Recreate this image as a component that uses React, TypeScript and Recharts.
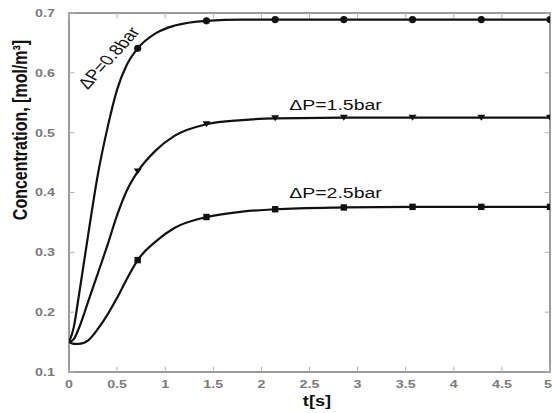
import React from 'react';
import { ComposedChart, Line, Scatter, XAxis, YAxis, ReferenceDot, ReferenceArea, ReferenceLine } from 'recharts';

// Curve sample times [s] and concentrations
const curveT = [0, 0.05, 0.1, 0.2, 0.3, 0.4, 0.5, 0.6, 0.714, 0.9, 1.1, 1.429, 1.8, 2.143, 2.857, 3.571, 4.286, 5];
const curve08 = [0.15, 0.175, 0.225, 0.33, 0.43, 0.508, 0.572, 0.613, 0.641, 0.666, 0.679, 0.687, 0.689, 0.689, 0.689, 0.689, 0.689, 0.689];
const curve15 = [0.15, 0.155, 0.172, 0.218, 0.265, 0.312, 0.362, 0.403, 0.435, 0.47, 0.495, 0.514, 0.521, 0.524, 0.525, 0.525, 0.525, 0.525];
const curve25 = [0.15, 0.147, 0.147, 0.153, 0.172, 0.196, 0.224, 0.255, 0.287, 0.318, 0.341, 0.359, 0.368, 0.372, 0.375, 0.376, 0.376, 0.376];

// Marker positions
const markerT = [0.714, 1.429, 2.143, 2.857, 3.571, 4.286, 5];
const marker08 = [0.641, 0.687, 0.689, 0.689, 0.689, 0.689, 0.689];
const marker15 = [0.435, 0.514, 0.524, 0.525, 0.525, 0.525, 0.525];
const marker25 = [0.287, 0.359, 0.372, 0.375, 0.376, 0.376, 0.376];

// Labels
const seriesLabels = ['ΔP=0.8bar', 'ΔP=1.5bar', 'ΔP=2.5bar'];
const labelT = [0.47, 2.77, 2.77];
const labelV = [0.62, 0.538, 0.391];
const xTicks = [0, 0.5, 1, 1.5, 2, 2.5, 3, 3.5, 4, 4.5, 5];
const yTicks = [0.1, 0.2, 0.3, 0.4, 0.5, 0.6, 0.7];
const xTitle = 't[s]';
const yTitle = 'Concentration, [mol/m³]';

const toPoints = (ts: number[], vs: number[]) => ts.map((t, i) => ({ t, v: vs[i] }));

const FONT = '"Liberation Sans", Arial, sans-serif';
const FRAME = '#9a9a9a';
const TICK = '#b0b0b0';
const INK = '#111';
const X0 = 0, X1 = 5, Y0 = 0.1, Y1 = 0.7;
const TX = 0.055; // inward tick length along x (data units)
const TY = 0.009; // inward tick length along y (data units)

const YTick = (props: any) => {
  const { x, y, payload } = props;
  return (
    <g transform={`translate(${x},${y}) scale(1.3,1)`}>
      <text x={0} y={0} dy="0.35em" textAnchor="end" fontSize={11} fontWeight="bold" fill="#7a7a7a" fontFamily={FONT}>
        {payload.value}
      </text>
    </g>
  );
};

const XTick = (props: any) => {
  const { x, y, payload } = props;
  const last = payload.value === X1;
  return (
    <g transform={`translate(${last ? x + 2 : x},${y}) scale(1.3,1)`}>
      <text x={0} y={0} dy="0.35em" textAnchor={last ? 'end' : 'middle'} fontSize={11} fontWeight="bold" fill="#7a7a7a" fontFamily={FONT}>
        {payload.value}
      </text>
    </g>
  );
};

const circleShape = (p: any) => <circle cx={p.cx} cy={p.cy} r={3.6} fill={INK} />;
const triShape = (p: any) => (
  <polygon points={`${p.cx - 4},${p.cy - 3} ${p.cx + 4},${p.cy - 3} ${p.cx},${p.cy + 3}`} fill={INK} />
);
const squareShape = (p: any) => <rect x={p.cx - 3.2} y={p.cy - 3.2} width={6.4} height={6.4} fill={INK} />;

const makeLabelShape = (text: string, angle: number) => (p: any) => (
  <g transform={`translate(${p.cx},${p.cy}) scale(1.3,1) rotate(${angle})`}>
    <text x={0} y={0} textAnchor="middle" fontSize={15} fill={INK} fontFamily={FONT}>
      {text}
    </text>
  </g>
);

const YTitle = () => (
  <g transform="translate(27,130) scale(1.3,1) rotate(-90)">
    <text x={0} y={0} textAnchor="middle" fontSize={16} fontWeight="bold" fill={INK} fontFamily={FONT}>
      {yTitle}
    </text>
  </g>
);

const XTitle = () => (
  <g transform="translate(317,406) scale(1.3,1)">
    <text x={0} y={0} textAnchor="middle" fontSize={14} fontWeight="bold" fill={INK} fontFamily={FONT}>
      {xTitle}
    </text>
  </g>
);

export default function App() {
  const d08 = toPoints(curveT, curve08);
  const d15 = toPoints(curveT, curve15);
  const d25 = toPoints(curveT, curve25);
  const m08 = toPoints(markerT, marker08);
  const m15 = toPoints(markerT, marker15);
  const m25 = toPoints(markerT, marker25);
  const angles = [-55, 0, 0];
  return (
    <div style={{ position: 'absolute', left: 0, top: 0, width: 552, height: 413, background: '#fff' }}>
      <ComposedChart width={552} height={413} margin={{ top: 13, right: 2, bottom: 0, left: 0 }}>
        <XAxis
          dataKey="t"
          type="number"
          domain={[X0, X1]}
          ticks={xTicks}
          interval={0}
          height={41}
          axisLine={false}
          tickLine={false}
          tickSize={0}
          tickMargin={12}
          tick={<XTick />}
          allowDataOverflow
          label={{ content: () => <XTitle /> }}
        />
        <YAxis
          type="number"
          domain={[Y0, Y1]}
          ticks={yTicks}
          interval={0}
          width={69}
          axisLine={false}
          tickLine={false}
          tickSize={0}
          tickMargin={14}
          tick={<YTick />}
          allowDataOverflow
          label={{ content: () => <YTitle /> }}
        />
        {xTicks.map((t) => (
          <ReferenceLine key={'xb' + t} segment={[{ x: t, y: Y0 }, { x: t, y: Y0 + TY }]} stroke={TICK} strokeWidth={1} ifOverflow="visible" />
        ))}
        {xTicks.map((t) => (
          <ReferenceLine key={'xt' + t} segment={[{ x: t, y: Y1 }, { x: t, y: Y1 - TY }]} stroke={TICK} strokeWidth={1} ifOverflow="visible" />
        ))}
        {yTicks.map((v) => (
          <ReferenceLine key={'yl' + v} segment={[{ x: X0, y: v }, { x: X0 + TX, y: v }]} stroke={TICK} strokeWidth={1} ifOverflow="visible" />
        ))}
        {yTicks.map((v) => (
          <ReferenceLine key={'yr' + v} segment={[{ x: X1, y: v }, { x: X1 - TX, y: v }]} stroke={TICK} strokeWidth={1} ifOverflow="visible" />
        ))}
        <ReferenceArea x1={X0} x2={X1} y1={Y0} y2={Y1} fill="none" fillOpacity={0} stroke={FRAME} strokeWidth={2} ifOverflow="visible" />
        <Line data={d08} dataKey="v" type="monotone" stroke={INK} strokeWidth={2.2} dot={false} activeDot={false} isAnimationActive={false} />
        <Line data={d15} dataKey="v" type="monotone" stroke={INK} strokeWidth={2.2} dot={false} activeDot={false} isAnimationActive={false} />
        <Line data={d25} dataKey="v" type="monotone" stroke={INK} strokeWidth={2.2} dot={false} activeDot={false} isAnimationActive={false} />
        <Scatter data={m08} dataKey="v" shape={circleShape} isAnimationActive={false} />
        <Scatter data={m15} dataKey="v" shape={triShape} isAnimationActive={false} />
        <Scatter data={m25} dataKey="v" shape={squareShape} isAnimationActive={false} />
        {seriesLabels.map((s, i) => (
          <ReferenceDot key={s} x={labelT[i]} y={labelV[i]} r={1} shape={makeLabelShape(s, angles[i])} />
        ))}
      </ComposedChart>
    </div>
  );
}
